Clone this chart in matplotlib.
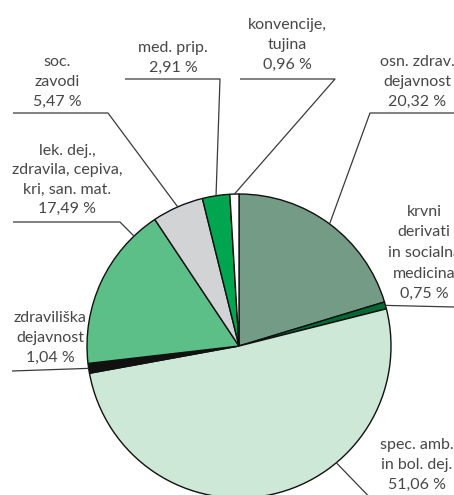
import numpy as np
import matplotlib
matplotlib.use("Agg")
import matplotlib.pyplot as plt

# shares of expenditure, clockwise from 12 o'clock
labels = [
    "osn. zdrav.\ndejavnost",
    "krvni\nderivati\nin socialna\nmedicina",
    "spec. amb.\nin bol. dej.",
    "zdraviliška\ndejavnost",
    "lek. dej.,\nzdravila, cepiva,\nkri, san. mat.",
    "soc.\nzavodi",
    "med. prip.",
    "konvencije,\ntujina",
]
shares = [20.32, 0.75, 51.06, 1.04, 17.49, 5.47, 2.91, 0.96]
colors = ["#739b85", "#006a35", "#cde8d6", "#111111",
          "#5bbf87", "#d2d3d5", "#00a550", "#ffffff"]

W, H = 454, 495
CX, CY, R = 239, H - 346, 152

# layout: text centre (image px), where on the wedge the leader starts
# (fraction of the wedge, clockwise), and the leader's path to the text
layout = [
    dict(text=(417, 82), frac=0.5, path=[(370, 113), (454, 113)]),
    dict(text=(424, 253), frac=0.5, path=[(454, 307)], ls=1.6),
    dict(text=(417, 465), frac=0.35, path=[(380, 508)]),
    dict(text=(50, 338), frac=0.5, path=[(12, 371)]),
    dict(text=(67, 180), frac=0.84, path=[(120, 222), (13, 222)]),
    dict(text=(57, 82), frac=0.5, path=[(108, 113), (13, 113)]),
    dict(text=(173, 58), frac=0.5, path=[(220, 79), (125, 79)]),
    dict(text=(287, 45), frac=0.5, path=[(335, 79), (240, 79)]),
]

plt.rcParams["font.family"] = ["Lato", "DejaVu Sans"]

fig = plt.figure(figsize=(W / 100, H / 100), dpi=100)
ax = fig.add_axes([0, 0, 1, 1])

wedges, _ = ax.pie(shares, colors=colors, startangle=90, counterclock=False,
                   center=(CX, CY), radius=R, frame=True,
                   wedgeprops=dict(edgecolor="#111111", linewidth=1.0))
ax.set_xlim(0, W)
ax.set_ylim(0, H)
ax.set_aspect("equal")
ax.axis("off")

for w, lab, val, lay in zip(wedges, labels, shares, layout):
    a = np.deg2rad(w.theta2 - (w.theta2 - w.theta1) * lay["frac"])
    pts = [(CX + R * np.cos(a), CY + R * np.sin(a))]
    pts += [(x, H - y) for x, y in lay["path"]]
    xs, ys = zip(*pts)
    ax.plot(xs, ys, color="#3a3a3a", lw=0.9, solid_capstyle="butt", zorder=5)
    tx, ty = lay["text"]
    txt = lab + "\n" + f"{val:.2f}".replace(".", ",") + " %"
    ax.text(tx, H - ty, txt, ha="center", va="center", fontsize=11.5,
            color="#474747", linespacing=lay.get("ls", 1.5))

fig.savefig("out.png", dpi=100)
